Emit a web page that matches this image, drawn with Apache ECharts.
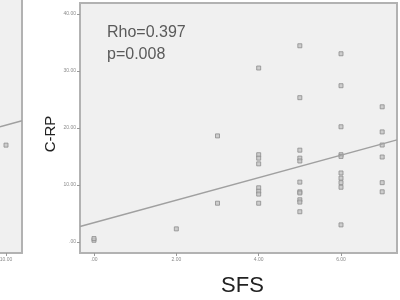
<!DOCTYPE html>
<html><head><meta charset="utf-8">
<script src="https://cdn.jsdelivr.net/npm/echarts@6/dist/echarts.min.js"></script>
<style>html,body{margin:0;padding:0;background:#fff}#c{width:400px;height:300px}</style>
</head><body><div id="c"></div>
<script>
// Main panel data (SFS vs C-RP)
const sfs = [0,0,2,3,3,4,4,4,4,4,4,4,4,5,5,5,5,5,5,5,5,5,5,5,6,6,6,6,6,6,6,6,6,6,7,7,7,7,7,7];
const crp = [0.3,0.6,2.3,18.6,6.8,30.5,15.3,14.7,13.7,9.5,8.9,8.4,6.8,34.4,25.3,16.1,14.7,14.2,10.5,8.8,8.6,7.4,7.0,5.3,33.0,27.4,20.2,15.3,15.0,12.1,11.2,10.4,9.6,3.0,23.7,19.3,17.0,14.9,10.4,8.8];
const fitX = [-0.34, 7.36];
const fitY = [2.7, 17.9];
const xTicks = [0, 2, 4, 6];
const xTickLabels = ['.00', '2.00', '4.00', '6.00'];
const yTicks = [0, 10, 20, 30, 40];
const yTickLabels = ['.00', '10.00', '20.00', '30.00', '40.00'];
const statsText = ['Rho=0.397', 'p=0.008'];
// Left (cropped) neighbouring panel fragment
const leftX = [10];
const leftY = [16.8];
const leftFitX = [9.4, 11.6];
const leftFitY = [20.0, 21.05];
const leftTicks = [10];
const leftTickLabels = ['10.00'];

const grey = '#b2b2b2';
const chart = echarts.init(document.getElementById('c'), null, {renderer: 'canvas'});
const pts = sfs.map((v, i) => [v, crp[i]]);
const fit = fitX.map((v, i) => [v, fitY[i]]);
const lpts = leftX.map((v, i) => [v, leftY[i]]);
const lfit = leftFitX.map((v, i) => [v, leftFitY[i]]);
const smallLabel = {fontSize: 5, color: '#8a8a8a', fontFamily: 'Liberation Sans'};

chart.setOption({
  animation: false,
  grid: [
    {left: 80, top: 3, right: 3, bottom: 47, show: true, backgroundColor: '#f0f0f0', borderColor: grey, borderWidth: 2,
     containLabel: false, outerBoundsMode: 'none'},
    {left: 0, top: 0, width: 22, bottom: 47, show: true, backgroundColor: '#f0f0f0', borderWidth: 0,
     containLabel: false, outerBoundsMode: 'none'}
  ],
  xAxis: [
    {gridIndex: 0, type: 'value', min: -0.34, max: 7.36, splitLine: {show: false},
     name: 'SFS', nameLocation: 'middle', nameGap: 22,
     nameTextStyle: {fontSize: 22, color: '#222', fontFamily: 'Liberation Sans', padding: [0, 0, 0, 8]},
     axisLine: {show: true, onZero: false, lineStyle: {color: grey, width: 2}},
     axisTick: {show: true, length: 3, customValues: xTicks, lineStyle: {color: '#999'}},
     axisLabel: Object.assign({customValues: xTicks, margin: 4,
       formatter: v => xTickLabels[xTicks.indexOf(v)] ?? ''}, smallLabel)},
    {gridIndex: 1, type: 'value', min: 9.4, max: 11.6, splitLine: {show: false},
     axisLine: {show: true, onZero: false, lineStyle: {color: grey, width: 2}},
     axisTick: {show: true, length: 3, customValues: leftTicks, lineStyle: {color: '#999'}},
     axisLabel: Object.assign({customValues: leftTicks, margin: 4,
       formatter: v => leftTickLabels[leftTicks.indexOf(v)] ?? ''}, smallLabel)}
  ],
  yAxis: [
    {gridIndex: 0, type: 'value', min: -1.93, max: 41.9, splitLine: {show: false},
     name: 'C-RP', nameLocation: 'middle', nameGap: 22, nameMoveOverlap: false,
     nameTextStyle: {fontSize: 15, color: '#222', fontFamily: 'Liberation Sans', padding: [0, 12, 0, 0]},
     axisLine: {show: true, onZero: false, lineStyle: {color: grey, width: 2}},
     axisTick: {show: true, length: 3, customValues: yTicks, lineStyle: {color: '#999'}},
     axisLabel: Object.assign({customValues: yTicks, margin: 4,
       formatter: v => yTickLabels[yTicks.indexOf(v)] ?? ''}, smallLabel)},
    {gridIndex: 1, type: 'value', min: -1.93, max: 42.0, position: 'right', splitLine: {show: false},
     axisLine: {show: true, onZero: false, lineStyle: {color: grey, width: 2}},
     axisTick: {show: false}, axisLabel: {show: false}}
  ],
  series: [
    {type: 'scatter', xAxisIndex: 0, yAxisIndex: 0, data: pts, symbol: 'rect', symbolSize: 4,
     itemStyle: {color: '#c4c4c4', borderColor: '#8c8c8c', borderWidth: 1}},
    {type: 'line', xAxisIndex: 0, yAxisIndex: 0, data: fit, symbol: 'none',
     lineStyle: {color: '#a0a0a0', width: 1.5}},
    {type: 'scatter', xAxisIndex: 1, yAxisIndex: 1, data: lpts, symbol: 'rect', symbolSize: 4,
     itemStyle: {color: '#c4c4c4', borderColor: '#8c8c8c', borderWidth: 1}},
    {type: 'line', xAxisIndex: 1, yAxisIndex: 1, data: lfit, symbol: 'none',
     lineStyle: {color: '#a0a0a0', width: 1.5}}
  ],
  graphic: [
    {type: 'text', left: 107, top: 25, style: {text: statsText[0], fontSize: 16, fill: '#5a5a5a', fontFamily: 'Liberation Sans'}},
    {type: 'text', left: 107, top: 47, style: {text: statsText[1], fontSize: 16, fill: '#5a5a5a', fontFamily: 'Liberation Sans'}}
  ]
});
</script></body></html>
